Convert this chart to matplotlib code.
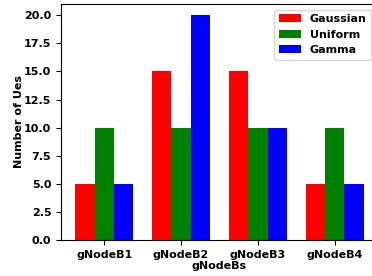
import numpy as np
import matplotlib.pyplot as plt

gnodebs = ["gNodeB1", "gNodeB2", "gNodeB3", "gNodeB4"]
gaussian = [5, 15, 15, 5]
uniform = [10, 10, 10, 10]
gamma = [5, 20, 10, 5]

plt.rcParams['font.weight'] = 'bold'
plt.rcParams['axes.labelweight'] = 'bold'
plt.rcParams['font.size'] = 8

fig = plt.figure(figsize=(3.72, 2.76), dpi=100)
ax = fig.add_axes([61/372, 36/276, (378-61)/372, (240-4)/276])

x = np.arange(len(gnodebs))
w = 0.25
ax.bar(x - w, gaussian, w, color="red", label="Gaussian")
ax.bar(x, uniform, w, color="green", label="Uniform")
ax.bar(x + w, gamma, w, color="blue", label="Gamma")

ax.set_xticks(x)
ax.set_xticklabels(gnodebs)
ax.set_yticks(np.arange(0, 20.1, 2.5))
ax.yaxis.set_major_formatter(plt.FormatStrFormatter("%.1f"))
ax.set_xlabel("gNodeBs", labelpad=1)
ax.set_ylabel("Number of Ues", labelpad=0)
ax.legend(loc="upper right", bbox_to_anchor=(0.996, 1))

fig.savefig("out.png", dpi=100)
